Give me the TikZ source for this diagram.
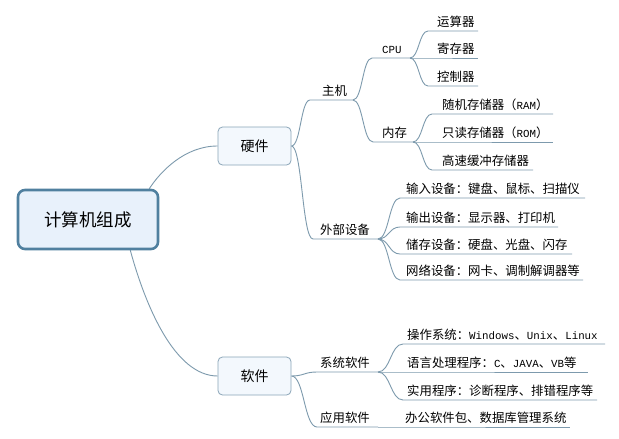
\documentclass[tikz,border=0pt]{standalone}
\usepackage{fontspec}
\setmainfont{Noto Sans CJK SC}
\newfontfamily\latmonofont{Liberation Mono}
\newcommand\latw[1]{{\latmonofont\fontsize{10.8}{12}\selectfont #1}}
\usetikzlibrary{calc,backgrounds}
\definecolor{lc}{HTML}{7D9AAD}
\definecolor{rootdraw}{HTML}{50809F}
\definecolor{rootfill}{HTML}{E8F1FB}
\definecolor{boxdraw}{HTML}{8AA5B8}
\definecolor{boxfill}{HTML}{F3F8FD}
\begin{document}
\begin{tikzpicture}[x=1pt,y=-1pt,
  conn/.style={draw=lc,line width=0.9pt},
  branch/.style={to path={let \p1=(\tikztostart), \p2=(\tikztotarget) in
     .. controls ({(\x1+\x2)/2},\y1) and ({(\x1+\x2)/2},\y2) .. (\tikztotarget) \tikztonodes}},
  lbl/.style={anchor=base west,inner sep=0pt,font=\fontsize{12.4}{14}\selectfont},
  rootbox/.style={draw=rootdraw,line width=2.6pt,fill=rootfill,rounded corners=7pt,
     minimum width=140pt,minimum height=59pt,inner sep=0pt,font=\fontsize{17.5}{20}\selectfont},
  topbox/.style={draw=boxdraw,line width=0.8pt,fill=boxfill,rounded corners=4.5pt,
     minimum width=73pt,minimum height=38pt,inner sep=0pt,font=\fontsize{14}{16}\selectfont}]
\useasboundingbox (0,0) rectangle (619,439);

% main boxes
\node[rootbox] (root) at (88,219.5) {计算机组成};
\node[topbox] (hw) at (254.5,146) {硬件};
\node[topbox] (sw) at (254.5,376) {软件};

% topic labels
\node[lbl] (zj)   at (322,95)  {主机};
\node[lbl] (cpu)  at (382,53)  {\latw{CPU}};
\node[lbl] (ys)   at (437,26)  {运算器};
\node[lbl] (jc)   at (437,53)  {寄存器};
\node[lbl] (kz)   at (437,81)  {控制器};
\node[lbl] (nc)   at (382,137) {内存};
\node[lbl] (ram)  at (442,109) {随机存储器（\latw{RAM}）};
\node[lbl] (rom)  at (442,137) {只读存储器（\latw{ROM}）};
\node[lbl] (gs)   at (442,165) {高速缓冲存储器};
\node[lbl] (wb)   at (320,234) {外部设备};
\node[lbl] (sr)   at (406,193) {输入设备：键盘、鼠标、扫描仪};
\node[lbl] (sc)   at (406,222) {输出设备：显示器、打印机};
\node[lbl] (cc)   at (406,249) {储存设备：硬盘、光盘、闪存};
\node[lbl] (wl)   at (406,275) {网络设备：网卡、调制解调器等};
\node[lbl] (xt)   at (320,367) {系统软件};
\node[lbl] (os)   at (407,339) {操作系统：\latw{Windows}、\latw{Unix}、\latw{Linux}};
\node[lbl] (yy)   at (407,367) {语言处理程序：\latw{C}、\latw{JAVA}、\latw{VB}等};
\node[lbl] (sy)   at (407,395) {实用程序：诊断程序、排错程序等};
\node[lbl] (yr)   at (320,422) {应用软件};
\node[lbl] (bg)   at (405,422) {办公软件包、数据库管理系统};

% underline coordinates (start / end)
\coordinate (zjS) at (310,100);  \coordinate (zjE) at (353,100);
\coordinate (cpuS) at (372,58);  \coordinate (cpuE) at (410,58);
\coordinate (ysS) at (428,31);   \coordinate (ysE) at (478,31);
\coordinate (jcS) at (428,58);   \coordinate (jcE) at (478,58);
\coordinate (kzS) at (428,86);   \coordinate (kzE) at (478,86);
\coordinate (ncS) at (373,142);  \coordinate (ncE) at (413,142);
\coordinate (ramS) at (432,114); \coordinate (ramE) at (553,114);
\coordinate (romS) at (432,142); \coordinate (romE) at (553,142);
\coordinate (gsS) at (432,170);  \coordinate (gsE) at (533,170);
\coordinate (wbS) at (313,239);  \coordinate (wbE) at (378,239);
\coordinate (srS) at (400,198);  \coordinate (srE) at (585,198);
\coordinate (scS) at (400,227);  \coordinate (scE) at (558,227);
\coordinate (ccS) at (400,254);  \coordinate (ccE) at (572,254);
\coordinate (wlS) at (400,280);  \coordinate (wlE) at (583,280);
\coordinate (xtS) at (317,372);  \coordinate (xtE) at (378,372);
\coordinate (osS) at (403,344);  \coordinate (osE) at (605,344);
\coordinate (yyS) at (403,372);  \coordinate (yyE) at (588,372);
\coordinate (syS) at (403,400);  \coordinate (syE) at (597,400);
\coordinate (yrS) at (317,427);  \coordinate (yrE) at (378,427);
\coordinate (bgS) at (403,427);  \coordinate (bgE) at (570,427);
\coordinate (rootA) at ([xshift=-10pt]root.north east);
\coordinate (rootB) at ([xshift=-29pt]root.south east);

\begin{scope}[on background layer]
\fill[white] (0,0) rectangle (619,439);
% root connectors
\draw[conn] (rootA) .. controls ++(11,-17) and ++(-33,0) .. (hw.west);
\draw[conn] (rootB) .. controls ++(15,55) and ++(-43,0) .. (sw.west);
% hardware
\draw[conn] (hw.east) to[branch] (zjS) -- (zjE);
\draw[conn] (zjE) to[branch] (cpuS) -- (cpuE);
\draw[conn] (cpuE) to[branch] (ysS) -- (ysE);
\draw[conn] (cpuE) to[branch] (jcS) -- (jcE);
\draw[conn] (cpuE) to[branch] (kzS) -- (kzE);
\draw[conn] (zjE) to[branch] (ncS) -- (ncE);
\draw[conn] (ncE) to[branch] (ramS) -- (ramE);
\draw[conn] (ncE) to[branch] (romS) -- (romE);
\draw[conn] (ncE) to[branch] (gsS) -- (gsE);
\draw[conn] (hw.east) to[branch] (wbS) -- (wbE);
\draw[conn] (wbE) to[branch] (srS) -- (srE);
\draw[conn] (wbE) to[branch] (scS) -- (scE);
\draw[conn] (wbE) to[branch] (ccS) -- (ccE);
\draw[conn] (wbE) to[branch] (wlS) -- (wlE);
% software
\draw[conn] (sw.east) to[branch] (xtS) -- (xtE);
\draw[conn] (xtE) to[branch] (osS) -- (osE);
\draw[conn] (xtE) to[branch] (yyS) -- (yyE);
\draw[conn] (xtE) to[branch] (syS) -- (syE);
\draw[conn] (sw.east) to[branch] (yrS) -- (yrE);
\draw[conn] (yrE) -- (bgS) -- (bgE);
\end{scope}
\end{tikzpicture}
\end{document}
